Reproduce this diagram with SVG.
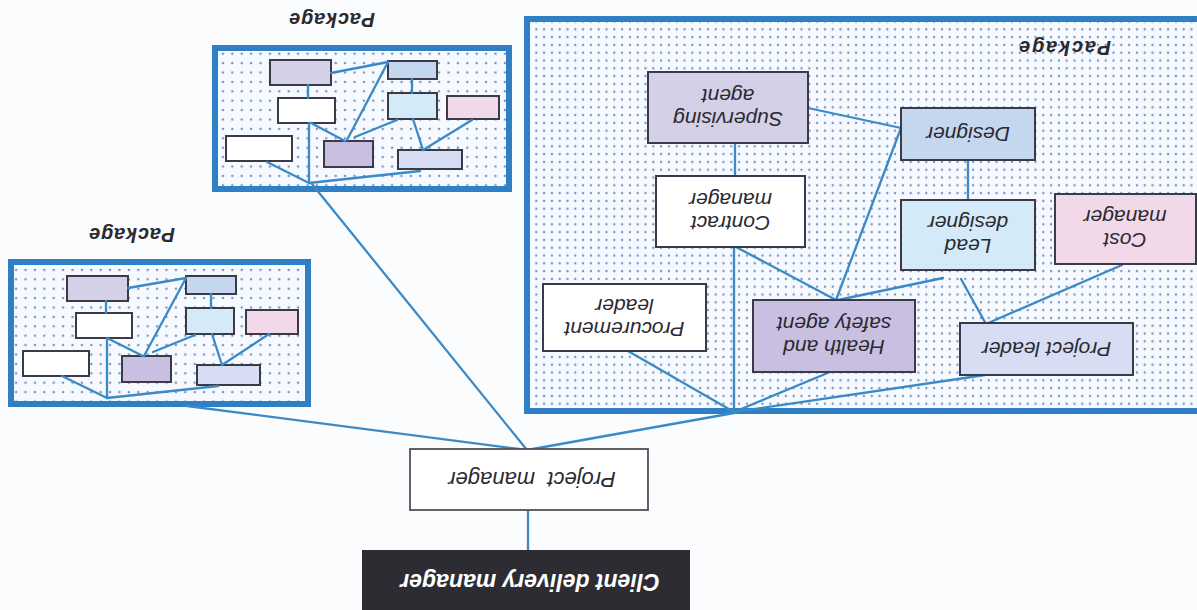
<svg xmlns="http://www.w3.org/2000/svg" width="1197" height="610" viewBox="0 0 1197 610">
<style>
.bg{fill:#fbfcfd}
.pkg{stroke:#2f7fc4;stroke-width:6}
.pkgbig{fill:url(#dotsBig)}
.pkgsm{fill:url(#dotsSm)}
.node{stroke:#3a3a48;stroke-width:2}
.sm{stroke:#3a3a48;stroke-width:2}
.lbl{font-family:"Liberation Sans",Arial,sans-serif;font-style:italic;font-size:21px;fill:#2a2a30;text-anchor:middle}
.pkglbl{font-family:"Liberation Sans",Arial,sans-serif;font-style:italic;font-weight:bold;font-size:20px;fill:#2a2a30;text-anchor:middle}
.cdm{font-family:"Liberation Sans",Arial,sans-serif;font-style:italic;font-weight:bold;font-size:23px;fill:#ffffff;text-anchor:middle}
#connectors line{stroke:#3a8ac8;stroke-width:2.3;stroke-linecap:round}
.white{fill:#ffffff}
.lav{fill:#d4d0e8}
.des{fill:#c5d6ef}
.lead{fill:#d5eaf9}
.pink{fill:#f2d9e9}
.hs{fill:#c9c0e1}
.pl{fill:#d7ddf3}
</style>
<defs>
<pattern id="dotsBig" patternUnits="userSpaceOnUse" width="7.8" height="7.8" x="2" y="2">
<rect width="7.8" height="7.8" fill="#f6f9fd"/>
<circle cx="3.9" cy="3.9" r="1.15" fill="#7491cc"/>
</pattern>
<pattern id="dotsSm" patternUnits="userSpaceOnUse" width="9.4" height="9.4" x="2" y="2">
<rect width="9.4" height="9.4" fill="#f6f9fd"/>
<circle cx="4.7" cy="4.7" r="1.25" fill="#7491cc"/>
</pattern>
</defs>
<rect class="bg" x="0" y="0" width="1197" height="610"/>

<g id="package-main">
<rect class="pkg pkgbig" x="527" y="19" width="680" height="392"/>
<text class="pkglbl" transform="rotate(180 1065 48)" x="1065" y="55" textLength="92" lengthAdjust="spacing">Package</text>
</g>

<g id="package-top">
<rect class="pkg pkgsm" x="215" y="48" width="294" height="141"/>
<text class="pkglbl" transform="rotate(180 332 20)" x="332" y="27" textLength="86" lengthAdjust="spacing">Package</text>
<rect class="sm lav" x="270" y="60" width="61" height="25"/>
<rect class="sm des" x="388" y="61" width="49" height="18"/>
<rect class="sm white" x="278" y="98" width="57" height="25"/>
<rect class="sm lead" x="388" y="93" width="49" height="26"/>
<rect class="sm pink" x="447" y="96" width="52" height="23"/>
<rect class="sm white" x="226" y="136" width="66" height="25"/>
<rect class="sm hs" x="324" y="141" width="49" height="26"/>
<rect class="sm pl" x="398" y="150" width="64" height="19"/>
</g>

<g id="package-left">
<rect class="pkg pkgsm" x="11" y="262" width="297" height="142"/>
<text class="pkglbl" transform="rotate(180 132 235)" x="132" y="242" textLength="86" lengthAdjust="spacing">Package</text>
<rect class="sm lav" x="67" y="276" width="61" height="25"/>
<rect class="sm des" x="186" y="276" width="50" height="18"/>
<rect class="sm white" x="76" y="313" width="56" height="25"/>
<rect class="sm lead" x="186" y="308" width="48" height="26"/>
<rect class="sm pink" x="246" y="310" width="52" height="24"/>
<rect class="sm white" x="23" y="351" width="66" height="25"/>
<rect class="sm hs" x="122" y="356" width="49" height="26"/>
<rect class="sm pl" x="197" y="365" width="63" height="20"/>
</g>

<g id="connectors">
<line x1="808" y1="108" x2="901" y2="128"/>
<line x1="735" y1="143" x2="735" y2="176"/>
<line x1="968" y1="160" x2="968" y2="200"/>
<line x1="901" y1="128" x2="836" y2="300"/>
<line x1="734" y1="247" x2="734" y2="412"/>
<line x1="736" y1="247" x2="836" y2="300"/>
<line x1="943" y1="278" x2="838" y2="300"/>
<line x1="961" y1="279" x2="986" y2="324"/>
<line x1="1122" y1="265" x2="986" y2="324"/>
<line x1="628" y1="351" x2="734" y2="412"/>
<line x1="830" y1="372" x2="734" y2="412"/>
<line x1="985" y1="375" x2="734" y2="412"/>
<line x1="734" y1="413" x2="527" y2="450"/>
<line x1="312" y1="184" x2="527" y2="450"/>
<line x1="187" y1="406" x2="527" y2="450"/>
<line x1="528" y1="510" x2="528" y2="550"/>
<!-- top package -->
<line x1="331" y1="73" x2="388" y2="62"/>
<line x1="308" y1="85" x2="308" y2="98"/>
<line x1="412" y1="79" x2="412" y2="93"/>
<line x1="388" y1="62" x2="347" y2="140"/>
<line x1="309" y1="123" x2="309" y2="183"/>
<line x1="311" y1="123" x2="345" y2="141"/>
<line x1="397" y1="120" x2="355" y2="137"/>
<line x1="413" y1="119" x2="423" y2="150"/>
<line x1="472" y1="120" x2="423" y2="150"/>
<line x1="267" y1="162" x2="309" y2="183"/>
<line x1="420" y1="171" x2="309" y2="183"/>
<!-- left package -->
<line x1="128" y1="288" x2="186" y2="278"/>
<line x1="106" y1="301" x2="106" y2="313"/>
<line x1="211" y1="294" x2="211" y2="308"/>
<line x1="186" y1="278" x2="144" y2="356"/>
<line x1="107" y1="338" x2="107" y2="398"/>
<line x1="109" y1="339" x2="143" y2="356"/>
<line x1="195" y1="335" x2="153" y2="352"/>
<line x1="212" y1="334" x2="222" y2="365"/>
<line x1="269" y1="334" x2="222" y2="365"/>
<line x1="62" y1="376" x2="107" y2="398"/>
<line x1="218" y1="386" x2="107" y2="398"/>
</g>

<g id="supervising-agent">
<rect class="node lav" x="648" y="72" width="160" height="71"/>
<text class="lbl" transform="rotate(180 728 107.5)" x="728" y="107.5"><tspan x="728" dy="-4">Supervising</tspan><tspan x="728" dy="23">agent</tspan></text>
</g>
<g id="designer">
<rect class="node des" x="901" y="108" width="134" height="52"/>
<text class="lbl" transform="rotate(180 968 134)" x="968" y="141.5">Designer</text>
</g>
<g id="contract-manager">
<rect class="node white" x="656" y="176" width="149" height="71"/>
<text class="lbl" transform="rotate(180 730.5 211.5)" x="730.5" y="211.5"><tspan x="730.5" dy="-4">Contract</tspan><tspan x="730.5" dy="23">manager</tspan></text>
</g>
<g id="lead-designer">
<rect class="node lead" x="901" y="200" width="134" height="70"/>
<text class="lbl" transform="rotate(180 968 235)" x="968" y="235"><tspan x="968" dy="-4">Lead</tspan><tspan x="968" dy="23">designer</tspan></text>
</g>
<g id="cost-manager">
<rect class="node pink" x="1055" y="194" width="141" height="70"/>
<text class="lbl" transform="rotate(180 1125 229)" x="1125" y="229"><tspan x="1125" dy="-4">Cost</tspan><tspan x="1125" dy="23">manager</tspan></text>
</g>
<g id="procurement-leader">
<rect class="node white" x="543" y="284" width="163" height="67"/>
<text class="lbl" transform="rotate(180 624.5 317.5)" x="624.5" y="317.5"><tspan x="624.5" dy="-4">Procurement</tspan><tspan x="624.5" dy="23">leader</tspan></text>
</g>
<g id="health-safety-agent">
<rect class="node hs" x="753" y="300" width="162" height="72"/>
<text class="lbl" transform="rotate(180 834 336)" x="834" y="336"><tspan x="834" dy="-4">Health and</tspan><tspan x="834" dy="23">safety agent</tspan></text>
</g>
<g id="project-leader">
<rect class="node pl" x="960" y="323" width="173" height="52"/>
<text class="lbl" transform="rotate(180 1046.5 349)" x="1046.5" y="356.5">Project leader</text>
</g>
<g id="project-manager">
<rect class="node white" x="410" y="449" width="238" height="61" style="stroke:#50505a;stroke-width:1.8"/>
<text class="lbl" transform="rotate(180 532 479.5)" x="532" y="487.5" style="white-space:pre;font-size:22px">Project  manager</text>
</g>
<g id="client-delivery-manager">
<rect x="362" y="550" width="328" height="62" fill="#2c2c32"/>
<text class="cdm" transform="rotate(180 530 582)" x="530" y="590">Client delivery manager</text>
</g>
</svg>
